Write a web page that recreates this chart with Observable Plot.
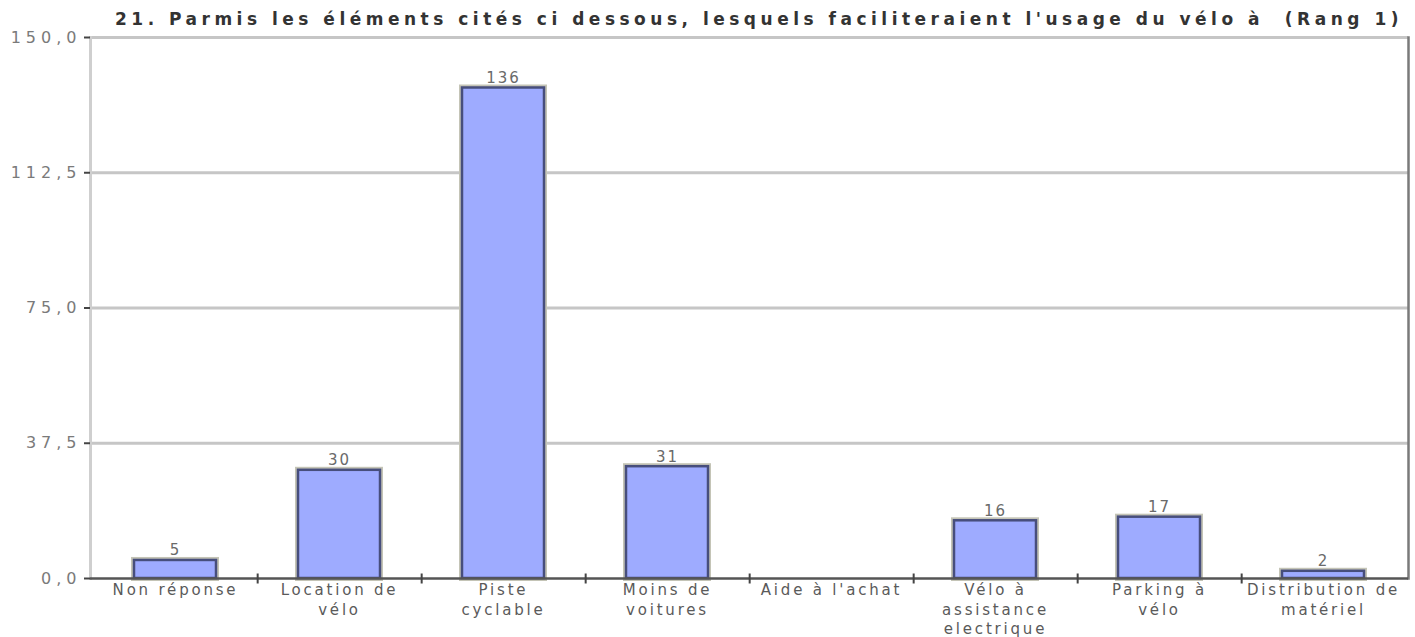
<!DOCTYPE html>
<html>
<head>
<meta charset="utf-8">
<script src="https://cdn.jsdelivr.net/npm/d3@7"></script>
<script src="https://cdn.jsdelivr.net/npm/@observablehq/plot@0.6"></script>
<style>
  body { margin: 0; background: #fff; }
  #chart { width: 1415px; height: 637px; overflow: hidden; font-family: "DejaVu Sans", sans-serif; }
  .title {
    height: 18px; box-sizing: border-box; padding-top: 10px; padding-left: 115px;
    font-weight: bold; font-size: 17px; line-height: 18px; letter-spacing: 4.5px;
    color: #333; white-space: pre; overflow: visible;
  }
  .bars { display: block; }
  .bars g[aria-label="y-axis tick label"] text { letter-spacing: 5px; }
  .bars g[aria-label="x-axis tick label"] text { letter-spacing: 2.8px; }
  .bars g[aria-label="text"] text { letter-spacing: 2px; }
</style>
</head>
<body>
<div id="chart"></div>
<script>
// Réponses à la question 21 (Rang 1)
const titleText = "21. Parmis les éléments cités ci dessous, lesquels faciliteraient l'usage du vélo à  (Rang 1)";
const categories = [
  "Non réponse", "Location de vélo", "Piste cyclable", "Moins de voitures",
  "Aide à l'achat", "Vélo à assistance electrique", "Parking à vélo", "Distribution de matériel"
];
const xLabels = [
  "Non réponse", "Location de\nvélo", "Piste\ncyclable", "Moins de\nvoitures",
  "Aide à l'achat", "Vélo à\nassistance\nelectrique", "Parking à\nvélo", "Distribution de\nmatériel"
];
const values = [5, 30, 136, 31, 0, 16, 17, 2];
const yTicks = [0, 37.5, 75, 112.5, 150];
const gridValues = [37.5, 75, 112.5, 150];

const data = categories.map((c, i) => ({cat: c, value: values[i]}));
const separators = categories.slice(0, -1);

// layout
const W = 1415, H = 619;
const mL = 90, mR = 7, mT = 19, mB = 59;
const padInner = 0.5, padOuter = 0.26;
const step = (W - mL - mR) / (categories.length - padInner + 2 * padOuter);

// short vertical stroke used for the category separators on the baseline
const vline = {
  draw(context, size) {
    const h = Math.sqrt(size / Math.PI);
    context.moveTo(0, -h);
    context.lineTo(0, h);
  }
};

const title = document.createElement("div");
title.className = "title";
title.textContent = titleText;

const chart = Plot.plot({
  className: "bars",
  width: W,
  height: H,
  marginLeft: mL,
  marginRight: mR,
  marginTop: mT,
  marginBottom: mB,
  style: {fontFamily: "DejaVu Sans, sans-serif", background: "none"},
  x: {domain: categories, paddingInner: padInner, paddingOuter: padOuter, axis: null},
  y: {domain: [0, 150], axis: null},
  marks: [
    Plot.ruleY(gridValues, {stroke: "#c6c6c6", strokeWidth: 3}),
    Plot.frame({anchor: "left", stroke: "#cfcfcf", strokeWidth: 3}),
    Plot.frame({anchor: "right", stroke: "#7a7a7a", strokeWidth: 2.5}),
    // soft halo round each bar
    Plot.barY(data, {x: "cat", y: "value", fill: "none", stroke: "#c4c4b6", strokeWidth: 6}),
    Plot.barY(data, {x: "cat", y: "value", fill: "#9eabff", stroke: "#474e7c", strokeWidth: 2.5}),
    Plot.ruleY([0], {stroke: "#555", strokeWidth: 2.5}),
    Plot.dot(separators, {x: d => d, y: 0, dx: step / 2, symbol: vline, r: 5, stroke: "#444", strokeWidth: 2}),
    Plot.text(data.filter(d => d.value > 0), {
      x: "cat", y: "value", text: d => String(d.value),
      lineAnchor: "bottom", dy: -5, fontSize: 15, fill: "#6a6a6a"
    }),
    Plot.axisY({
      ticks: yTicks, tickSize: 6, tickPadding: 3, label: null,
      tickFormat: d => d.toFixed(1).replace(".", ","),
      fontSize: 16, fill: "#7a7a7a", stroke: "#444", strokeWidth: 2
    }),
    Plot.axisX({
      tickSize: 0, tickPadding: 3, label: null,
      tickFormat: d => xLabels[categories.indexOf(d)],
      fontSize: 15, lineHeight: 1.3, fill: "#5a5a5a"
    })
  ]
});

const root = document.getElementById("chart");
root.appendChild(title);
root.appendChild(chart);
</script>
</body>
</html>
